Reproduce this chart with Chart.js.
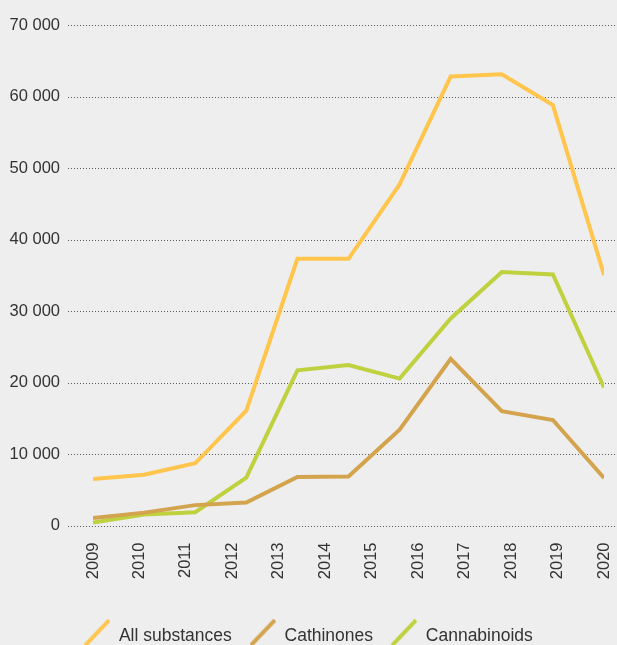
<!DOCTYPE html>
<html>
<head>
<meta charset="utf-8">
<script src="https://cdn.jsdelivr.net/npm/chart.js@4/dist/chart.umd.min.js"></script>
<style>
  html, body { margin: 0; padding: 0; background: #eeeeee; overflow: hidden; }
  #wrap { width: 617px; height: 655px; }
</style>
</head>
<body>
<div id="wrap"><canvas id="chart" width="617" height="655"></canvas></div>
<script>
// years shown on the axis
const years = ['2009','2010','2011','2012','2013','2014','2015','2016','2017','2018','2019','2020'];

// yearly counts (11 points per series)
const allSubstances = [6500, 7100, 8700, 16050, 37300, 37300, 47700, 62800, 63100, 58800, 35050];
const cathinones    = [1050, 1800, 2850, 3200, 6800, 6850, 13400, 23300, 16000, 14750, 6650];
const cannabinoids  = [400, 1550, 1850, 6700, 21700, 22450, 20550, 28950, 35450, 35100, 19300];

const yTickLabels = ['0','10 000','20 000','30 000','40 000','50 000','60 000','70 000'];

const seriesNames  = ['All substances', 'Cathinones', 'Cannabinoids'];
const seriesColors = ['#ffc54c', '#d3a34d', '#bfd13f'];

const FONT = 'Liberation Sans';
const TEXT = '#333333';

// slanted stroke used as legend marker
function makeIcon(color){
  const c = document.createElement('canvas');
  c.width = 26; c.height = 34;
  const g = c.getContext('2d');
  g.strokeStyle = color;
  g.lineWidth = 4;
  g.beginPath();
  g.moveTo(1, 26);
  g.lineTo(25, 1);
  g.stroke();
  return c;
}

const toPoints = arr => arr.map((v,i)=>({x:i, y:v}));

// dotted horizontal rules across the full width, extending left under the labels
const dottedGrid = {
  id: 'dottedGrid',
  beforeDatasetsDraw(chart){
    const {ctx, scales:{y}} = chart;
    ctx.save();
    ctx.strokeStyle = '#5a5a5a';
    ctx.lineWidth = 1;
    ctx.setLineDash([1,2]);
    y.ticks.forEach(t=>{
      const py = Math.round(y.getPixelForValue(t.value)) + 0.5;
      ctx.beginPath();
      ctx.moveTo(68, py);
      ctx.lineTo(chart.width, py);
      ctx.stroke();
    });
    ctx.restore();
  }
};

const datasets = [allSubstances, cathinones, cannabinoids].map((vals,i)=>({
  label: seriesNames[i],
  data: toPoints(vals),
  borderColor: seriesColors[i],
  backgroundColor: seriesColors[i],
  borderWidth: 4,
  pointRadius: 0,
  tension: 0,
  fill: false,
  xAxisID: 'x',
  pointStyle: makeIcon(seriesColors[i])
}));

new Chart(document.getElementById('chart').getContext('2d'), {
  type: 'line',
  data: { datasets },
  options: {
    responsive: false,
    animation: false,
    layout: { padding: { top: 25, right: 0, left: 0, bottom: 0 } },
    plugins: {
      tooltip: { enabled: false },
      legend: {
        position: 'bottom',
        labels: {
          usePointStyle: true,
          pointStyleWidth: 26,
          padding: 18,
          color: TEXT,
          font: { family: FONT, size: 17.5 }
        }
      }
    },
    scales: {
      x: { type: 'linear', min: 0, max: 10, display: false },
      years: {
        type: 'category',
        labels: years,
        position: 'bottom',
        offset: false,
        grid: { display: false },
        border: { display: false },
        ticks: {
          color: TEXT,
          font: { family: FONT, size: 16.5 },
          minRotation: 90, maxRotation: 90,
          padding: 9,
          autoSkip: false
        },
        afterFit: s => {
          s.height = 84;
          // small gap on the right so the last year sits inside the canvas
          s.paddingLeft = 0; s.paddingRight = 13;
        }
      },
      y: {
        min: 0, max: 70000,
        grid: { display: false, drawTicks: false },
        border: { display: false },
        ticks: {
          stepSize: 10000,
          color: TEXT,
          font: { family: FONT, size: 16.5 },
          padding: 33,
          callback: (v, i) => yTickLabels[i]
        },
        afterFit: s => {
          s.width = 93;
          s.paddingTop = 0; s.paddingBottom = 0;
        }
      }
    }
  },
  plugins: [dottedGrid]
});
</script>
</body>
</html>
